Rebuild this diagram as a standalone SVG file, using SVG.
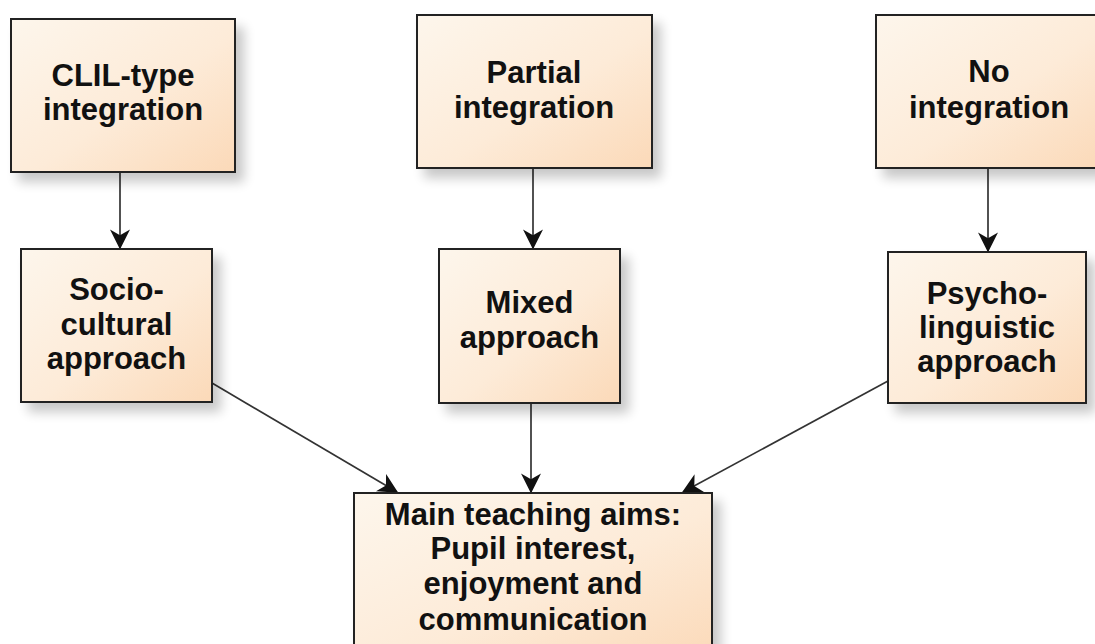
<svg xmlns="http://www.w3.org/2000/svg" width="1095" height="644" viewBox="0 0 1095 644">
<style>
.box{fill:url(#g);stroke:#222;stroke-width:2;filter:url(#sh)}
.t{font-family:"Liberation Sans",Arial,sans-serif;font-weight:bold;font-size:31px;fill:#111;text-anchor:middle}
.c{stroke:#333;stroke-width:1.7;fill:none;marker-end:url(#ah)}
</style>
<defs>
<linearGradient id="g" x1="0" y1="0" x2="1" y2="1">
<stop offset="0" stop-color="#fdf6ec"/>
<stop offset="0.55" stop-color="#fdebd8"/>
<stop offset="1" stop-color="#fbd9b8"/>
</linearGradient>
<filter id="sh" x="-20%" y="-20%" width="150%" height="150%">
<feGaussianBlur in="SourceAlpha" stdDeviation="6"/>
<feOffset dx="8" dy="9" result="b"/>
<feComponentTransfer><feFuncA type="linear" slope="0.22"/></feComponentTransfer>
<feMerge><feMergeNode/><feMergeNode in="SourceGraphic"/></feMerge>
</filter>
<marker id="ah" markerUnits="userSpaceOnUse" markerWidth="20" markerHeight="20" viewBox="0 0 14 14" refX="13" refY="7" orient="auto">
<path d="M0,0 L14,7 L0,14 L4,7 z" fill="#111"/>
</marker>
</defs>
<rect width="1095" height="644" fill="#fff"/>
<g id="connectors">
<line class="c" x1="120" y1="173" x2="120" y2="248"/>
<line class="c" x1="533" y1="169" x2="533" y2="248"/>
<line class="c" x1="988" y1="169" x2="988" y2="251"/>
<line class="c" x1="212" y1="383" x2="397" y2="492"/>
<line class="c" x1="531" y1="404" x2="531" y2="492"/>
<line class="c" x1="888" y1="381" x2="683" y2="492"/>
</g>
<g id="n-clil"><rect class="box" x="11" y="19" width="224" height="153"/>
<text class="t" x="123" y="86">CLIL-type</text><text class="t" x="123" y="120">integration</text></g>
<g id="n-partial"><rect class="box" x="417" y="15" width="235" height="153"/>
<text class="t" x="534" y="83">Partial</text><text class="t" x="534" y="118">integration</text></g>
<g id="n-no"><rect class="box" x="876" y="15" width="226" height="153"/>
<text class="t" x="989" y="82">No</text><text class="t" x="989" y="118">integration</text></g>
<g id="n-socio"><rect class="box" x="21" y="249" width="191" height="153"/>
<text class="t" x="116.5" y="300">Socio-</text><text class="t" x="116.5" y="335">cultural</text><text class="t" x="116.5" y="369">approach</text></g>
<g id="n-mixed"><rect class="box" x="439" y="249" width="181" height="154"/>
<text class="t" x="529.5" y="313">Mixed</text><text class="t" x="529.5" y="348">approach</text></g>
<g id="n-psycho"><rect class="box" x="888" y="252" width="198" height="151"/>
<text class="t" x="987" y="304">Psycho-</text><text class="t" x="987" y="338">linguistic</text><text class="t" x="987" y="372">approach</text></g>
<g id="n-main"><rect class="box" x="354" y="493" width="358" height="170"/>
<text class="t" x="533" y="525">Main teaching aims:</text><text class="t" x="533" y="559">Pupil interest,</text><text class="t" x="533" y="594">enjoyment and</text><text class="t" x="533" y="630">communication</text></g>
</svg>
